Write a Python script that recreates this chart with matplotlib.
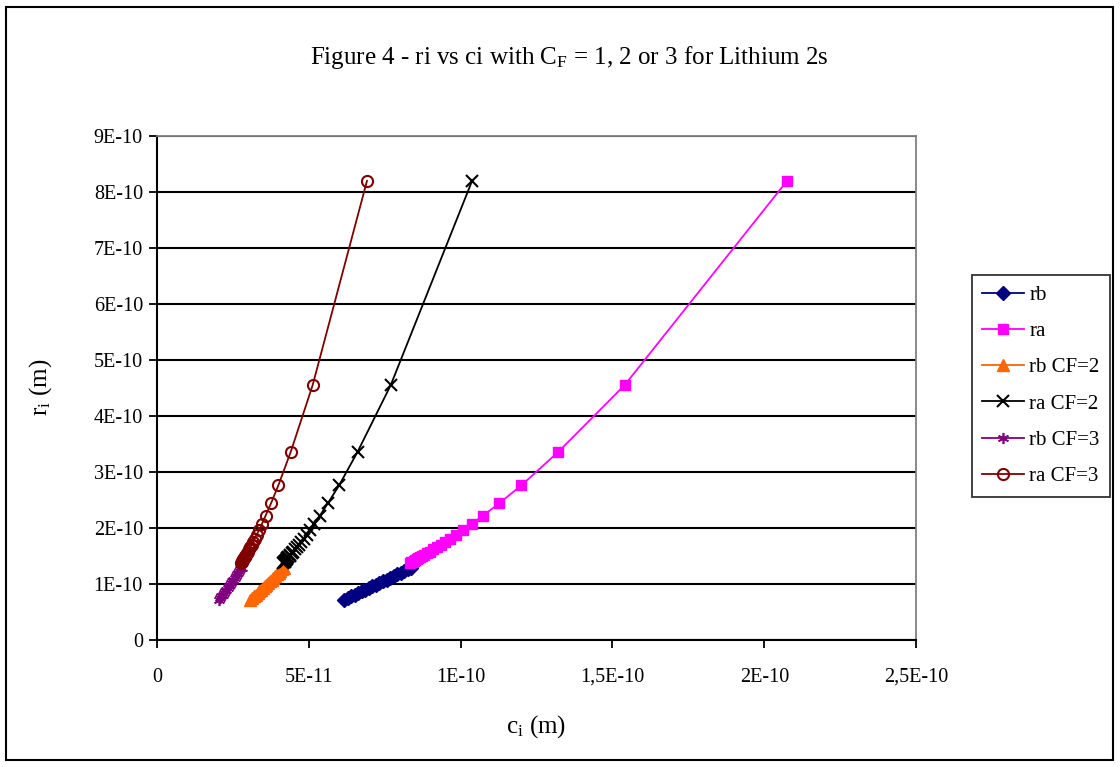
import matplotlib
matplotlib.use('Agg')
import matplotlib.pyplot as plt
from matplotlib.patches import Rectangle

plt.rcParams['font.family'] = 'Liberation Serif'
plt.rcParams['mathtext.fontset'] = 'custom'
plt.rcParams['mathtext.rm'] = 'Liberation Serif'
plt.rcParams['mathtext.it'] = 'Liberation Serif:italic'

# values, in units of 1E-10 m
rb_r = [0.72, 0.75, 0.78, 0.81, 0.84, 0.87, 0.90, 0.93, 0.96, 0.99, 1.02, 1.05,
        1.08, 1.11, 1.14, 1.17, 1.20, 1.23, 1.26, 1.29]
rb_c = [0.616, 0.628, 0.640, 0.652, 0.663, 0.675, 0.686, 0.698, 0.710, 0.722,
        0.733, 0.745, 0.757, 0.768, 0.780, 0.792, 0.803, 0.815, 0.826, 0.838]
ra_r = [8.20, 4.55, 3.36, 2.76, 2.44, 2.22, 2.07, 1.96, 1.88, 1.81, 1.75, 1.70,
        1.66, 1.62, 1.58, 1.55, 1.52, 1.50, 1.48, 1.46, 1.44, 1.43, 1.41, 1.40,
        1.39, 1.38]
ra_c = [2.075, 1.540, 1.322, 1.200, 1.127, 1.074, 1.038, 1.008, 0.986, 0.966,
        0.950, 0.935, 0.922, 0.910, 0.898, 0.889, 0.880, 0.873, 0.867, 0.861,
        0.855, 0.851, 0.846, 0.842, 0.838, 0.834]
rb2_c = [0.308, 0.314, 0.320, 0.326, 0.332, 0.337, 0.343, 0.349, 0.355, 0.361,
         0.367, 0.373, 0.378, 0.384, 0.390, 0.396, 0.402, 0.407, 0.413, 0.419]
ra2_c = [1.038, 0.770, 0.661, 0.600, 0.563, 0.537, 0.519, 0.504, 0.493, 0.483,
         0.475, 0.468, 0.461, 0.455, 0.449, 0.444, 0.440, 0.437, 0.433, 0.430,
         0.428, 0.425, 0.423, 0.421, 0.419, 0.417]
rb3_c = [0.205, 0.209, 0.213, 0.217, 0.221, 0.225, 0.229, 0.233, 0.237, 0.241,
         0.244, 0.248, 0.252, 0.256, 0.260, 0.264, 0.268, 0.272, 0.275, 0.279]
ra3_c = [0.692, 0.513, 0.441, 0.400, 0.376, 0.358, 0.346, 0.336, 0.329, 0.322,
         0.317, 0.312, 0.307, 0.303, 0.299, 0.296, 0.293, 0.291, 0.289, 0.287,
         0.285, 0.284, 0.282, 0.281, 0.279, 0.278]

x_ticks = [0, 0.5, 1.0, 1.5, 2.0, 2.5]
x_labels = ['0', '5E-11', '1E-10', '1,5E-10', '2E-10', '2,5E-10']
y_ticks = [0, 1, 2, 3, 4, 5, 6, 7, 8, 9]
y_labels = ['0', '1E-10', '2E-10', '3E-10', '4E-10', '5E-10', '6E-10', '7E-10', '8E-10', '9E-10']

fig = plt.figure(figsize=(11.2, 7.67), dpi=100)
ax = fig.add_axes([0.140, 0.1656, 0.678, 0.657])

ax.set_axisbelow(True)
ax.yaxis.grid(True, color='black', linewidth=1.5)

ax.plot(rb_c, rb_r, color='#000080', marker='D', markersize=7, lw=1.3, label='rb')
ax.plot(ra_c, ra_r, color='#FF00FF', marker='s', markersize=7, lw=1.3, label='ra')
ax.plot(rb2_c, rb_r, color='#FF6600', marker='^', markersize=8, lw=1.3, label='rb CF=2')
ax.plot(ra2_c, ra_r, color='black', marker='x', markersize=9, mew=1.5, lw=1.3, label='ra CF=2')
ax.plot(rb3_c, rb_r, color='#800080', marker=(6, 2, 0), markersize=8, mew=1.2, lw=1.3, label='rb CF=3')
ax.plot(ra3_c, ra_r, color='#800000', marker='o', markersize=8, mfc='none', mew=1.5, lw=1.3, label='ra CF=3')

ax.set_xlim(0, 2.5)
ax.set_ylim(0, 9)
ax.set_xticks(x_ticks)
ax.set_xticklabels(x_labels, fontsize=14.5)
ax.set_yticks(y_ticks)
ax.set_yticklabels(y_labels, fontsize=14.5)
ax.tick_params(direction='out', length=6, width=1.3, pad=14)
ax.tick_params(axis='y', pad=4)

for side in ['top', 'right']:
    ax.spines[side].set_color('#808080')
    ax.spines[side].set_linewidth(1.3)
ax.spines['left'].set_linewidth(1.5)
ax.spines['bottom'].set_linewidth(1.5)

fig.text(0.508, 0.925, 'Figure 4 - ri vs ci with C$_\\mathrm{F}$ = 1, 2 or 3 for Lithium 2s',
         ha='center', va='center', fontsize=18)
fig.text(0.479, 0.053, 'c$_\\mathrm{i}$ (m)', ha='center', va='center', fontsize=18)
fig.text(0.036, 0.495, 'r$_\\mathrm{i}$ (m)', ha='center', va='center', fontsize=18, rotation=90)

leg = fig.legend(loc='upper left', bbox_to_anchor=(972 / 1120, 1 - 275 / 767), fontsize=15,
                 frameon=True, fancybox=False, edgecolor='black', borderpad=0.5,
                 labelspacing=0.8, handlelength=2.0, handletextpad=0.25, borderaxespad=0)
leg.get_frame().set_linewidth(1.3)

fig.patches.append(Rectangle((6 / 1120, 7 / 767), 1107 / 1120, 753 / 767, transform=fig.transFigure,
                             fill=False, edgecolor='black', linewidth=1.5))

fig.savefig('out.png', dpi=100)
